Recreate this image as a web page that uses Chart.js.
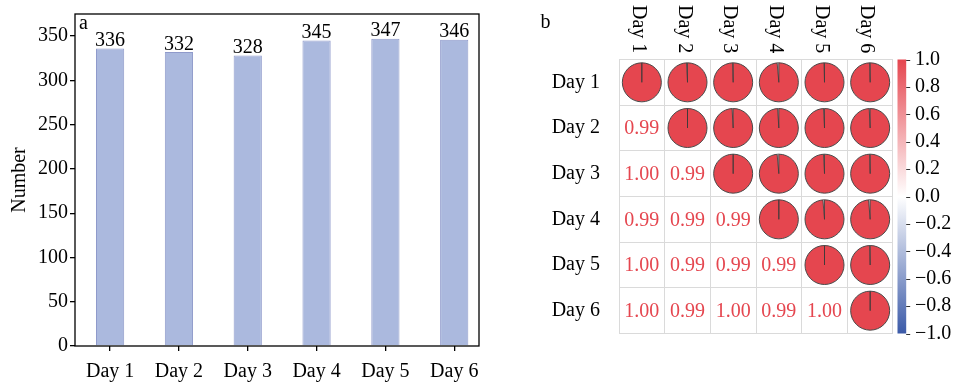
<!DOCTYPE html>
<html><head><meta charset="utf-8">
<script src="https://cdn.jsdelivr.net/npm/chart.js@4.4.1/dist/chart.umd.min.js"></script>
<style>
html,body{margin:0;padding:0;background:#fff;}
#wrap{position:relative;width:955px;height:382px;overflow:hidden;background:#fff;}
#c1{position:absolute;left:0;top:0;}
#c2{position:absolute;left:490px;top:0;}
</style></head><body>
<div id="wrap"><canvas id="c1" width="490" height="382"></canvas><canvas id="c2" width="465" height="382"></canvas></div>
<script>
// ---- data ----
const categories = ['Day 1', 'Day 2', 'Day 3', 'Day 4', 'Day 5', 'Day 6'];
const counts = [336, 332, 328, 345, 347, 346];
const countTicks = [0, 50, 100, 150, 200, 250, 300, 350];
const corrRow1 = [1.000, 0.992, 0.996, 0.986, 0.996, 0.996];
const corrRow2 = [0.992, 1.000, 0.991, 0.990, 0.992, 0.992];
const corrRow3 = [0.996, 0.991, 1.000, 0.986, 0.992, 0.996];
const corrRow4 = [0.986, 0.990, 0.986, 1.000, 0.987, 0.987];
const corrRow5 = [0.996, 0.992, 0.992, 0.987, 1.000, 0.996];
const corrRow6 = [0.996, 0.992, 0.996, 0.987, 0.996, 1.000];
const corrRows = [corrRow1, corrRow2, corrRow3, corrRow4, corrRow5, corrRow6];
const colorbarTicks = [1.0, 0.8, 0.6, 0.4, 0.2, 0.0, -0.2, -0.4, -0.6, -0.8, -1.0];

// ---- styles ----
const FONT = "'Liberation Serif','Times New Roman',serif";
const BAR_FILL = '#abb9de';
const BAR_EDGE = '#8f9acb';
const RED = '#e5464f';
const BLUE = '#3b5aa8';
const GRID = '#dadada';
Chart.defaults.font.family = FONT;
Chart.defaults.font.size = 20;
Chart.defaults.color = '#000';

const fmtCb = v => {
  const a = Math.abs(v) < 1e-9 ? 0 : v;
  return (a < 0 ? '\u2212' : '') + Math.abs(a).toFixed(1);
};

// ---- panel a ----
const panelA = {
  id: 'panelA',
  afterDatasetsDraw(chart) {
    const ctx = chart.ctx, ca = chart.chartArea;
    ctx.save();
    ctx.font = '20px ' + FONT;
    ctx.fillStyle = '#000';
    ctx.textAlign = 'center';
    ctx.textBaseline = 'alphabetic';
    chart.getDatasetMeta(0).data.forEach((bar, i) => {
      ctx.fillText(String(counts[i]), bar.x, bar.y - 2.5);
    });
    ctx.textAlign = 'left';
    ctx.fillText('a', ca.left + 4, 29);
    ctx.strokeStyle = '#000';
    ctx.lineWidth = 1.3;
    ctx.strokeRect(ca.left, ca.top, ca.right - ca.left, ca.bottom - ca.top);
    ctx.translate(25, (ca.top + ca.bottom) / 2);
    ctx.rotate(-Math.PI / 2);
    ctx.textAlign = 'center';
    ctx.fillText('Number', 0, 0);
    ctx.restore();
  }
};

new Chart(document.getElementById('c1'), {
  type: 'bar',
  data: {
    datasets: [{
      data: counts.map((v, i) => ({ x: i, y: v })),
      backgroundColor: BAR_FILL,
      borderColor: BAR_EDGE,
      borderWidth: 1,
      barPercentage: 0.41,
      categoryPercentage: 1
    }]
  },
  options: {
    responsive: false, animation: false, events: [],
    layout: { padding: { top: 13, right: 11, left: 0, bottom: 0 } },
    plugins: { legend: { display: false }, tooltip: { enabled: false } },
    scales: {
      x: {
        type: 'linear', min: -0.51, max: 5.36, offset: false,
        afterBuildTicks: s => { s.ticks = categories.map((_, i) => ({ value: i })); },
        ticks: { callback: v => categories[v], autoSkip: false, maxRotation: 0, padding: 9 },
        grid: { offset: false, drawOnChartArea: false, color: '#000', tickLength: 5, lineWidth: 1.3 },
        border: { display: false },
        afterFit: s => { s.height = 36; }
      },
      y: {
        min: 0, max: 375,
        afterBuildTicks: s => { s.ticks = countTicks.map(v => ({ value: v })); },
        ticks: { padding: 2, autoSkip: false, callback: v => String(v) },
        grid: { drawOnChartArea: false, color: '#000', tickLength: 5, lineWidth: 1.3 },
        border: { display: false },
        afterFit: s => { s.width = 75; }
      }
    }
  },
  plugins: [panelA]
});

// ---- panel b ----
const pts = [];
for (let i = 0; i < categories.length; i++) {
  for (let j = i; j < categories.length; j++) {
    pts.push({ x: categories[j], y: categories[i], v: corrRows[i][j] });
  }
}

const panelB = {
  id: 'panelB',
  afterDatasetsDraw(chart) {
    const ctx = chart.ctx, ca = chart.chartArea;
    const sx = chart.scales.x, sy = chart.scales.y, sc = chart.scales.y2;
    const ds = chart.data.datasets[0];
    const R = ds.pointRadius;
    ctx.save();
    // pie gaps
    chart.getDatasetMeta(0).data.forEach((pt, k) => {
      const v = ds.data[k].v;
      const start = -Math.PI / 2;
      const gap = (1 - v) * 2 * Math.PI;
      const cx = pt.x, cy = pt.y;
      if (gap > 0) {
        ctx.beginPath();
        ctx.moveTo(cx, cy);
        ctx.arc(cx, cy, R, start - gap, start);
        ctx.closePath();
        ctx.fillStyle = '#c8c8c8';
        ctx.fill();
      }
      ctx.beginPath();
      ctx.moveTo(cx + R * Math.cos(start - gap), cy + R * Math.sin(start - gap));
      ctx.lineTo(cx, cy);
      ctx.lineTo(cx, cy - R);
      ctx.strokeStyle = '#3a3a3a';
      ctx.lineWidth = 0.8;
      ctx.stroke();
    });
    // lower triangle numbers
    ctx.font = '20px ' + FONT;
    ctx.fillStyle = RED;
    ctx.textAlign = 'center';
    ctx.textBaseline = 'middle';
    for (let i = 0; i < categories.length; i++) {
      for (let j = 0; j < i; j++) {
        ctx.fillText(corrRows[i][j].toFixed(2), sx.getPixelForValue(j), sy.getPixelForValue(i) + 1);
      }
    }
    // column labels (rotated clockwise)
    ctx.fillStyle = '#000';
    ctx.textAlign = 'left';
    ctx.textBaseline = 'alphabetic';
    categories.forEach((c, j) => {
      ctx.save();
      ctx.translate(sx.getPixelForValue(j) - 9, 5);
      ctx.rotate(Math.PI / 2);
      ctx.fillText(c, 0, 0);
      ctx.restore();
    });
    // panel letter
    ctx.fillText('b', 50.5, 28);
    // colorbar
    const top = sc.getPixelForValue(1), bot = sc.getPixelForValue(-1);
    const x0 = ca.right + 4.5, w = 8.7;
    const g = ctx.createLinearGradient(0, top, 0, bot);
    g.addColorStop(0, RED);
    g.addColorStop(0.5, '#ffffff');
    g.addColorStop(1, BLUE);
    ctx.fillStyle = g;
    ctx.fillRect(x0, top, w, bot - top);
    ctx.strokeStyle = '#333';
    ctx.lineWidth = 1;
    colorbarTicks.forEach(v => {
      const y = Math.round(sc.getPixelForValue(v)) + 0.5;
      ctx.beginPath();
      ctx.moveTo(x0 + w, y);
      ctx.lineTo(x0 + w + 4, y);
      ctx.stroke();
    });
    ctx.restore();
  }
};

new Chart(document.getElementById('c2'), {
  type: 'scatter',
  data: {
    datasets: [{
      data: pts,
      pointRadius: 19.5,
      pointHoverRadius: 19.5,
      pointBackgroundColor: RED,
      pointBorderColor: '#4a4a4a',
      pointBorderWidth: 1
    }]
  },
  options: {
    responsive: false, animation: false, events: [],
    layout: { padding: { top: 59.5, left: 0, right: 0, bottom: 0 } },
    plugins: { legend: { display: false }, tooltip: { enabled: false } },
    scales: {
      x: {
        type: 'category', labels: categories, offset: true, position: 'bottom',
        grid: { offset: true, color: GRID, drawTicks: false, lineWidth: 1 },
        border: { display: false },
        ticks: { display: false },
        afterFit: s => { s.height = 48.5; }
      },
      y: {
        type: 'category', labels: categories, offset: true, position: 'left',
        grid: { offset: true, color: GRID, drawTicks: false, lineWidth: 1 },
        border: { display: false },
        ticks: { padding: 19, autoSkip: false },
        afterFit: s => { s.width = 129; }
      },
      y2: {
        type: 'linear', position: 'right', min: -1, max: 1,
        afterBuildTicks: s => { s.ticks = colorbarTicks.map(v => ({ value: v })); },
        ticks: { padding: 22, autoSkip: false, callback: v => fmtCb(v) },
        grid: { display: false, drawTicks: false },
        border: { display: false },
        afterFit: s => { s.width = 62; }
      }
    }
  },
  plugins: [panelB]
});
</script>
</body></html>
